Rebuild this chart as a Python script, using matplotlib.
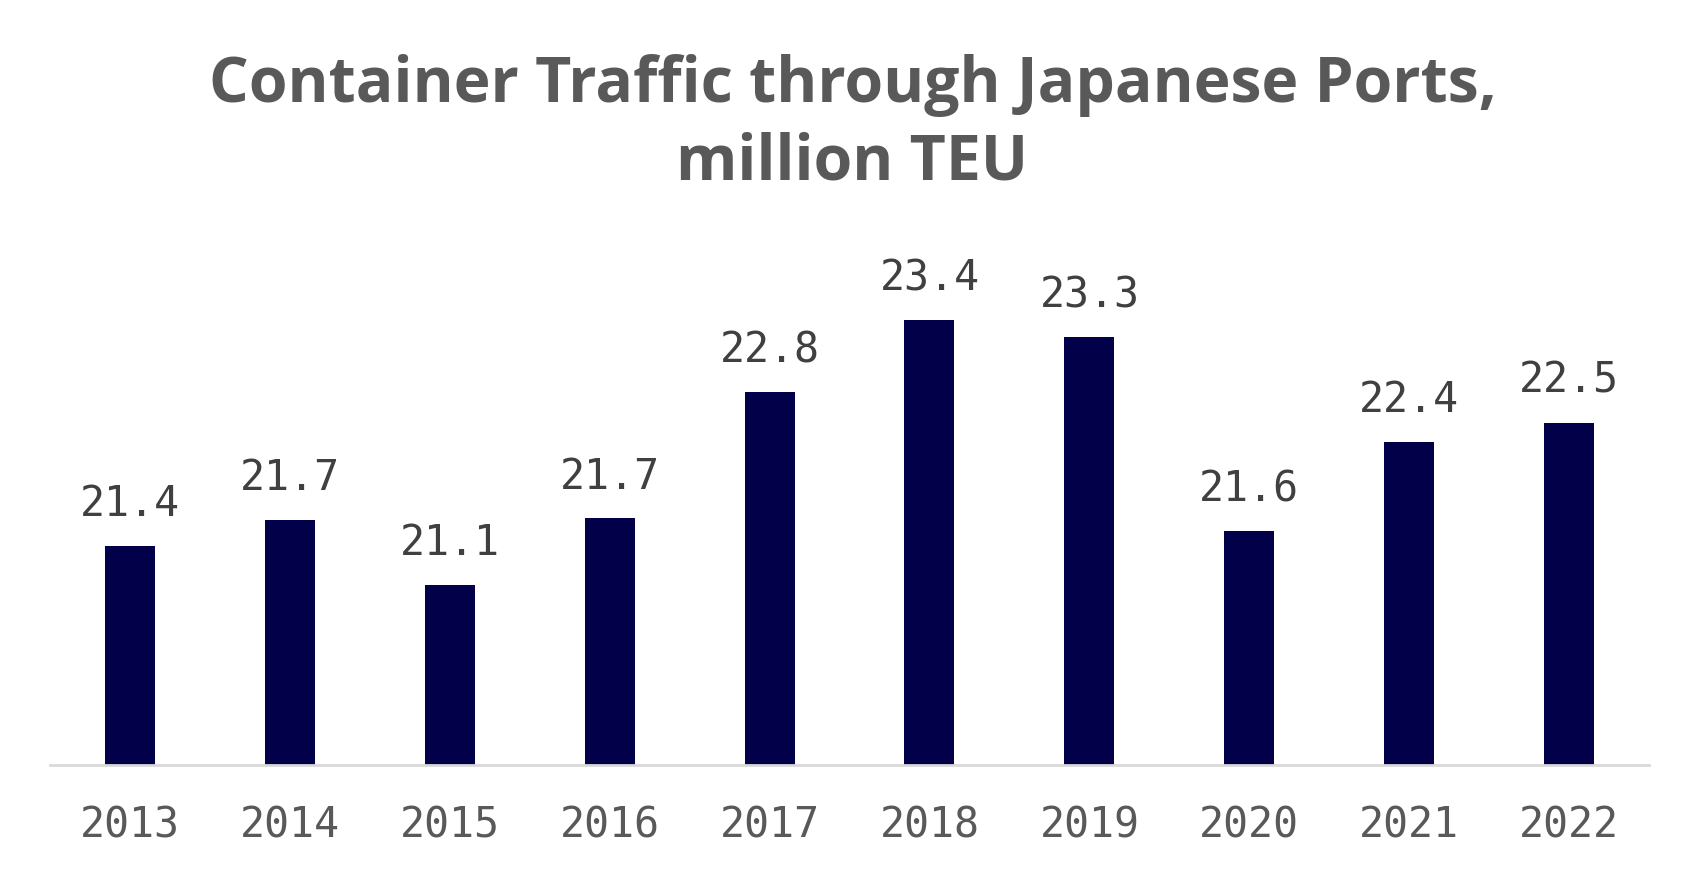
import matplotlib.pyplot as plt

years = ['2013', '2014', '2015', '2016', '2017', '2018', '2019', '2020', '2021', '2022']
teu = [21.44, 21.67, 21.10, 21.68, 22.79, 23.42, 23.27, 21.57, 22.35, 22.52]

fig = plt.figure(figsize=(17.05, 8.8), dpi=100)
ax = fig.add_axes([0.0293, 0.131, 0.9379, 0.5804])

x = range(len(years))
bars = ax.bar(x, teu, width=0.3125, color='#03004a')
ax.set_ylim(19.52, 24.0)
ax.set_xlim(-0.5, len(years) - 0.5)

# value labels above bars
for xi, v in zip(x, teu):
    ax.annotate(f'{v:.1f}', (xi, v), xytext=(0, 15), textcoords='offset points',
                ha='center', va='bottom', fontsize=30, family='DejaVu Sans Mono',
                color='#404040')

ax.set_xticks(list(x))
ax.set_xticklabels(years, fontsize=30, family='DejaVu Sans Mono', color='#595959')
ax.tick_params(axis='x', length=0, pad=29)
ax.set_yticks([])
for s in ['top', 'right', 'left']:
    ax.spines[s].set_visible(False)
ax.spines['bottom'].set_color('#d9d9d9')
ax.spines['bottom'].set_linewidth(2)

fig.text(0.5, 0.859, 'Container Traffic through Japanese Ports,\nmillion TEU',
         ha='center', va='center', fontsize=45, fontweight='bold',
         family='Open Sans', color='#595959', linespacing=1.3)

plt.savefig('out.png')
